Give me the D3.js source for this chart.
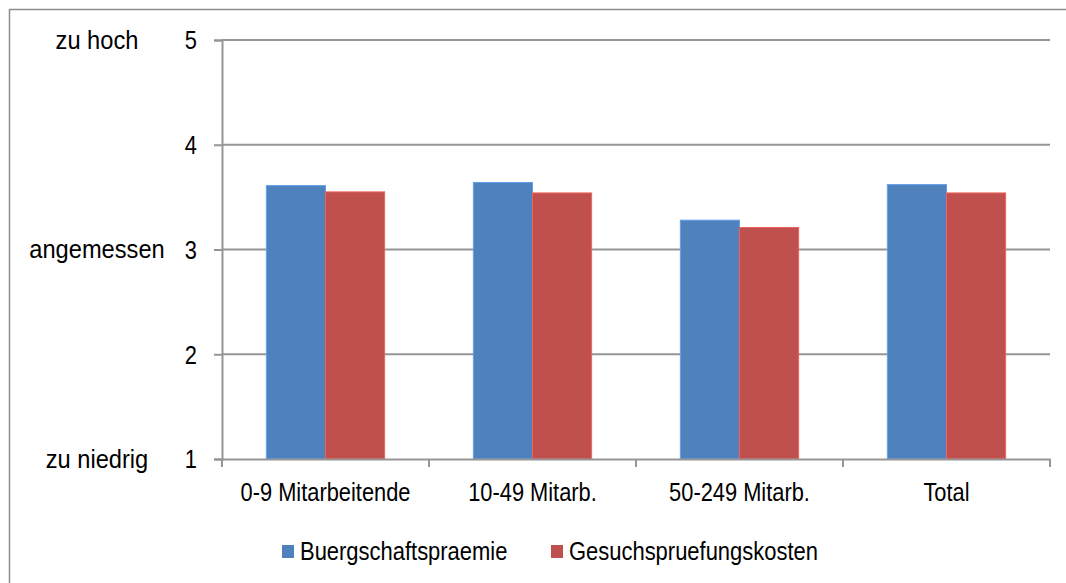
<!DOCTYPE html>
<html>
<head>
<meta charset="utf-8">
<script src="https://cdn.jsdelivr.net/npm/d3@7"></script>
<style>
  body { margin: 0; background: #fff; }
  text { font-family: "Liberation Sans Narrow", "Arial Narrow", "Liberation Sans", Arial, sans-serif; fill: #000; }
</style>
</head>
<body>
<div id="chart"></div>
<script>
// Data
const categories = ["0-9 Mitarbeitende", "10-49 Mitarb.", "50-249 Mitarb.", "Total"];
const seriesNames = ["Buergschaftspraemie", "Gesuchspruefungskosten"];
const buergschaft = [3.61, 3.64, 3.28, 3.62];
const gesuch = [3.55, 3.54, 3.21, 3.54];
const yTicks = [1, 2, 3, 4, 5];
const sideLabels = [
    { value: 5, text: "zu hoch" },
    { value: 3, text: "angemessen" },
    { value: 1, text: "zu niedrig" }
];

const colors = ["#4F81BD", "#C0504D"];
const gridColor = "#959595";

const W = 1066, H = 583;
const plot = { left: 222, right: 1050, top: 40, bottom: 459 };

// no narrow font installed, so squeeze the regular one horizontally,
// keeping each text's anchor point where it was
function narrow(k) {
    return sel => sel.each(function() {
        const t = d3.select(this);
        const x0 = +t.attr("x") || 0;
        t.attr("x", x0 / k)
         .attr("transform", `scale(${k},1)`);
    });
}

const svg = d3.select("#chart").append("svg")
    .attr("width", W)
    .attr("height", H);

// outer frame
svg.append("rect")
    .attr("x", 9.5).attr("y", 9.5)
    .attr("width", W + 20).attr("height", H + 20)
    .attr("fill", "none")
    .attr("stroke", "#8c8c8c")
    .attr("stroke-width", 1.5);

const x = d3.scaleBand()
    .domain(categories)
    .range([plot.left, plot.right]);

const x1 = d3.scaleBand()
    .domain(seriesNames)
    .range([0, x.bandwidth()])
    .paddingOuter(0.75)
    .paddingInner(0);

const y = d3.scaleLinear()
    .domain([1, 5])
    .range([plot.bottom, plot.top]);

// gridlines
yTicks.filter(t => t > 1).forEach(t => {
    svg.append("line")
        .attr("x1", plot.left).attr("x2", plot.right)
        .attr("y1", y(t)).attr("y2", y(t))
        .attr("stroke", gridColor)
        .attr("stroke-width", 2);
});

// bars
const rows = categories.map((c, i) => ({ cat: c, values: [buergschaft[i], gesuch[i]] }));

const groups = svg.selectAll(".grp")
    .data(rows)
    .enter().append("g")
    .attr("transform", d => `translate(${x(d.cat)},0)`);

groups.selectAll("rect")
    .data(d => d.values.map((v, k) => ({ key: seriesNames[k], value: v, k })))
    .enter().append("rect")
    .attr("x", d => x1(d.key))
    .attr("width", x1.bandwidth())
    .attr("y", d => y(d.value))
    .attr("height", d => y(1) - y(d.value))
    .attr("fill", d => colors[d.k])
    .attr("stroke", d => d3.color(colors[d.k]).brighter(0.6))
    .attr("stroke-width", 1);

// y axis
const yAxis = svg.append("g")
    .attr("transform", `translate(${plot.left},0)`)
    .call(d3.axisLeft(y).tickValues(yTicks).tickFormat(d3.format("d")).tickSize(8).tickPadding(17));
yAxis.select(".domain").attr("stroke", gridColor).attr("stroke-width", 2);
yAxis.selectAll(".tick line").attr("stroke", gridColor).attr("stroke-width", 2);
yAxis.selectAll(".tick text")
    .attr("font-size", "26px")
    .attr("font-family", null)
    .attr("dy", "0.34em")
    .call(narrow(0.84));

// x axis
const xAxis = svg.append("g")
    .attr("transform", `translate(0,${plot.bottom})`)
    .call(d3.axisBottom(x).tickSize(0).tickPadding(24));
xAxis.select(".domain").attr("stroke", gridColor).attr("stroke-width", 2);
xAxis.selectAll(".tick text")
    .attr("font-size", "26px")
    .attr("font-family", null)
    .call(narrow(0.84));

// category separators
d3.range(categories.length + 1).forEach(i => {
    const xp = plot.left + i * x.step();
    svg.append("line")
        .attr("x1", xp).attr("x2", xp)
        .attr("y1", plot.bottom).attr("y2", plot.bottom + 8)
        .attr("stroke", gridColor)
        .attr("stroke-width", 2);
});

// scale word labels
svg.selectAll(".side")
    .data(sideLabels)
    .enter().append("text")
    .attr("x", 97)
    .attr("y", d => y(d.value))
    .attr("dy", "0.34em")
    .attr("text-anchor", "middle")
    .attr("font-size", "26px")
    .text(d => d.text)
    .call(narrow(0.91));

// legend
const legend = svg.append("g").attr("transform", "translate(282,551)");
const legendX = [0, 269];
seriesNames.forEach((s, i) => {
    const g = legend.append("g").attr("transform", `translate(${legendX[i]},0)`);
    g.append("rect")
        .attr("x", 0).attr("y", -6)
        .attr("width", 12).attr("height", 13)
        .attr("fill", colors[i]);
    g.append("text")
        .attr("x", 18).attr("y", 0)
        .attr("dy", "0.34em")
        .attr("font-size", "26px")
        .text(s)
        .call(narrow(0.845));
});
</script>
</body>
</html>
